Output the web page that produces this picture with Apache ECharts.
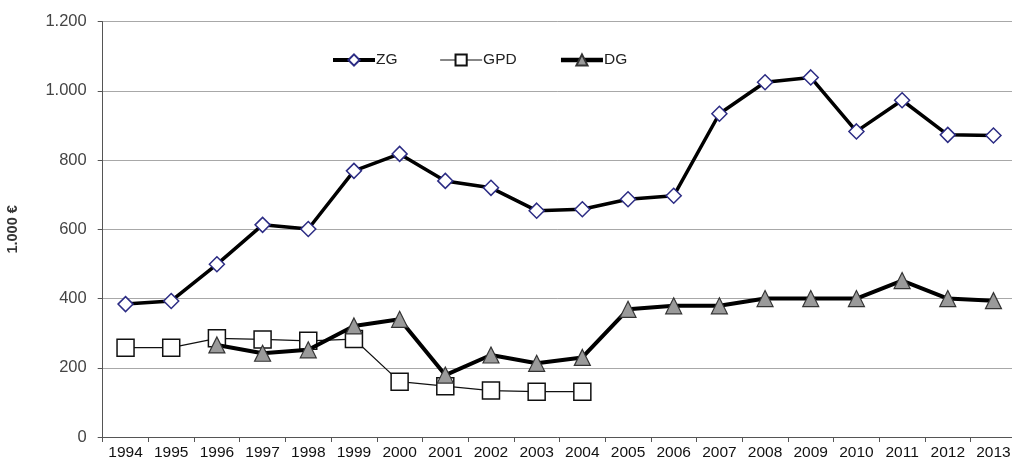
<!DOCTYPE html>
<html>
<head>
<meta charset="utf-8">
<script src="https://cdn.jsdelivr.net/npm/echarts@6/dist/echarts.min.js"></script>
<style>
  html, body { margin: 0; padding: 0; background: #fff; }
  #chart { width: 1012px; height: 467px; }
</style>
</head>
<body>
<div id="chart"></div>
<script>
// Years on the category axis
const years = ['1994','1995','1996','1997','1998','1999','2000','2001','2002','2003',
               '2004','2005','2006','2007','2008','2009','2010','2011','2012','2013'];

// Series values in thousand euro
const zgValues  = [384, 393, 499, 613, 601, 769, 818, 740, 720, 654,
                   658, 687, 697, 934, 1025, 1039, 883, 973, 873, 871];
const gpdValues = [258, 258, 285, 282, 278, 283, 160, 147, 134, 131,
                   131, null, null, null, null, null, null, null, null, null];
const dgValues  = [null, null, 266, 242, 252, 321, 340, 179, 237, 213,
                   230, 369, 379, 379, 400, 400, 400, 452, 400, 394];

// Value axis ticks
const yTicks = { min: 0, max: 1200, interval: 200 };

const fmtThousands = v => String(v).replace(/\B(?=(\d{3})+(?!\d))/g, '.');

const chart = echarts.init(document.getElementById('chart'), null, { renderer: 'canvas' });

chart.setOption({
  animation: false,
  backgroundColor: '#ffffff',
  textStyle: { fontFamily: 'Liberation Sans, Arial, sans-serif' },
  grid: {
    left: 102.7, right: -4.3, top: 21.7, bottom: 30,
    containLabel: false,
    outerBoundsMode: 'none'
  },
  legend: {
    left: 326,
    top: 47,
    itemWidth: 42,
    itemHeight: 14,
    itemGap: 42,
    textStyle: { fontSize: 15.5, color: '#222', padding: [0, 0, 0, -4] },
    data: [
      { name: 'ZG', lineStyle: { width: 4 } },
      { name: 'GPD', lineStyle: { width: 1.2 } },
      { name: 'DG', lineStyle: { width: 4.5 } }
    ]
  },
  xAxis: {
    type: 'category',
    data: years,
    boundaryGap: true,
    axisLine: { lineStyle: { color: '#555', width: 1 } },
    axisTick: { show: true, alignWithLabel: false, length: 5, lineStyle: { color: '#555' } },
    axisLabel: { color: '#111', fontSize: 15.5, margin: 8, interval: 0 },
    splitLine: { show: false }
  },
  yAxis: {
    type: 'value',
    min: yTicks.min,
    max: yTicks.max,
    interval: yTicks.interval,
    name: '1.000 €',
    nameLocation: 'middle',
    nameGap: 82,
    nameRotate: 90,
    nameTextStyle: { fontWeight: 'bold', fontSize: 14.5, color: '#333' },
    axisLine: { show: true, lineStyle: { color: '#555', width: 1 } },
    axisTick: { show: true, length: 5, lineStyle: { color: '#555' } },
    axisLabel: { color: '#444', fontSize: 16.5, margin: 16, formatter: fmtThousands },
    splitLine: { show: true, lineStyle: { color: '#a8a8a8', width: 1 } }
  },
  series: [
    {
      name: 'ZG',
      type: 'line',
      data: zgValues,
      symbol: 'diamond',
      symbolSize: 15,
      lineStyle: { color: '#000', width: 3.5 },
      itemStyle: { color: '#ffffff', borderColor: '#2c2c84', borderWidth: 1.5 },
      z: 3
    },
    {
      name: 'GPD',
      type: 'line',
      data: gpdValues,
      symbol: 'rect',
      symbolSize: 17,
      lineStyle: { color: '#111', width: 1.2 },
      itemStyle: { color: '#ffffff', borderColor: '#111', borderWidth: 1.5 },
      z: 2
    },
    {
      name: 'DG',
      type: 'line',
      data: dgValues,
      symbol: 'triangle',
      symbolSize: 16,
      lineStyle: { color: '#000', width: 4 },
      itemStyle: { color: '#9a9a9a', borderColor: '#333', borderWidth: 1.2 },
      z: 4
    }
  ]
});
</script>
</body>
</html>
